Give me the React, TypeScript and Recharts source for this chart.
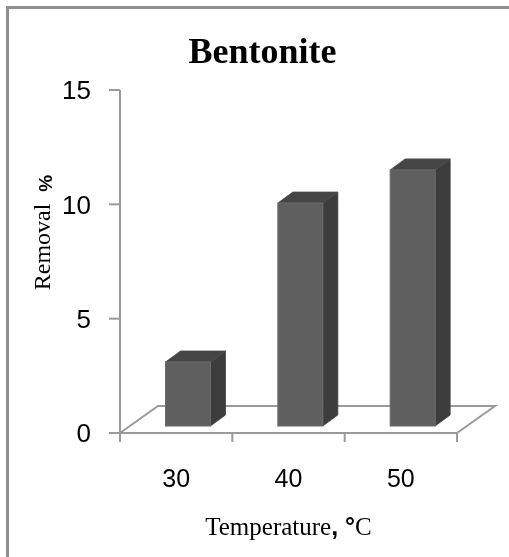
import React from 'react';
import { BarChart, Bar, XAxis, YAxis, ReferenceArea } from 'recharts';

// Removal (%) of the dye on bentonite at each temperature
const temperatures = ['30', '40', '50'];
const removal = [2.8, 9.75, 11.2];
const removalTicks = [0, 5, 10, 15];

const data = temperatures.map((t, i) => ({ temperature: t, removal: removal[i] }));

const AXIS_COLOR = '#9a9a9a';
const SANS = '"Liberation Sans", Arial, sans-serif';
const SERIF = '"Liberation Serif", "Times New Roman", serif';

// oblique projection of the floor and of each column
const FLOOR_DX = 38;
const FLOOR_DY = 27;
const SET_BACK_X = 11.5;
const SET_BACK_Y = 7;
const COL_DX = 15;
const COL_DY = 11;

function Column3D(props: any) {
  const { x, y, width, height } = props;
  if (x == null || y == null || !width || !height) return null;
  const fx = x + SET_BACK_X;
  const fy = y - SET_BACK_Y;
  const right = fx + width;
  const bottom = fy + height;
  return (
    <g>
      <polygon
        points={`${right},${fy} ${right + COL_DX},${fy - COL_DY} ${right + COL_DX},${bottom - COL_DY} ${right},${bottom}`}
        fill="#3c3c3c"
        stroke="#444"
        strokeWidth={0.8}
      />
      <polygon
        points={`${fx},${fy} ${fx + COL_DX},${fy - COL_DY} ${right + COL_DX},${fy - COL_DY} ${right},${fy}`}
        fill="#454545"
        stroke="#4a4a4a"
        strokeWidth={0.8}
      />
      <rect x={fx} y={fy} width={width} height={height} fill="#5f5f5f" stroke="#6c6c6c" strokeWidth={1} />
    </g>
  );
}

function Floor(props: any) {
  const { x, y, width } = props;
  if (x == null || y == null || width == null) return null;
  const pts = `${x},${y} ${x + FLOOR_DX},${y - FLOOR_DY} ${x + width + FLOOR_DX},${y - FLOOR_DY} ${x + width},${y}`;
  return <polyline points={pts} fill="#fff" stroke={AXIS_COLOR} strokeWidth={2} />;
}

// category label with tick marks on the band boundaries
function TemperatureTick(props: any) {
  const { x, y, payload, index, visibleTicksCount } = props;
  const half = payload && payload.offset ? payload.offset : 0;
  const top = y - 30;
  const marks = [x - half];
  if (index === (visibleTicksCount ?? 3) - 1) marks.push(x + half);
  return (
    <g>
      {marks.map((mx, i) => (
        <line key={i} x1={mx} x2={mx} y1={top} y2={top + 9} stroke={AXIS_COLOR} strokeWidth={2} />
      ))}
      <text x={x} y={top + 54} textAnchor="middle" fill="#000" fontSize={25} fontFamily={SANS}>
        {payload.value}
      </text>
    </g>
  );
}

function XTitle(props: any) {
  const vb = props.viewBox || {};
  const cx = vb.x + vb.width / 2;
  return (
    <text x={cx} y={vb.y + 102} textAnchor="middle" fill="#000" fontSize={25} fontFamily={SERIF}>
      <tspan>Temperature</tspan>
      <tspan fontFamily={SANS} fontWeight="bold">, °</tspan>
      <tspan>C</tspan>
    </text>
  );
}

function YTitle() {
  const x = 50;
  const y = 232.5;
  return (
    <text x={x} y={y} transform={`rotate(-90, ${x}, ${y})`} textAnchor="middle" fill="#000" fontSize={24} fontFamily={SERIF}>
      <tspan>Removal</tspan>
      <tspan dx={12} dy={2} fontFamily={SANS} fontWeight="bold" fontSize={19}>%</tspan>
    </text>
  );
}

export default function App() {
  return (
    <div>
      <div
        style={{
          position: 'fixed',
          left: 6,
          top: 6,
          width: 503,
          height: 551,
          borderLeft: '3px solid #8f8f8f',
          borderTop: '3px solid #8f8f8f',
          boxSizing: 'border-box',
        }}
      />
      <div
        style={{
          position: 'fixed',
          left: 0,
          top: 32.85,
          width: 525,
          textAlign: 'center',
          fontFamily: SERIF,
          fontWeight: 'bold',
          fontSize: 36,
          lineHeight: '36px',
          color: '#000',
        }}
      >
        Bentonite
      </div>
      <div style={{ position: 'fixed', left: 0, top: 0 }}>
        <BarChart width={509} height={557} data={data} margin={{ top: 90, right: 52, left: 60, bottom: 94 }}>
          <XAxis
            dataKey="temperature"
            height={30}
            axisLine={{ stroke: AXIS_COLOR, strokeWidth: 2 }}
            tickLine={false}
            tickSize={30}
            tickMargin={0}
            interval={0}
            tick={TemperatureTick}
            label={{ content: XTitle }}
          />
          <YAxis
            domain={[0, 15]}
            ticks={removalTicks}
            width={60}
            tickSize={11}
            tickMargin={18}
            axisLine={{ stroke: AXIS_COLOR, strokeWidth: 2 }}
            tickLine={{ stroke: AXIS_COLOR, strokeWidth: 2 }}
            tick={{ fontSize: 26, fill: '#000', fontFamily: SANS }}
            label={{ content: YTitle }}
          />
          <ReferenceArea y1={0} y2={0} ifOverflow="visible" shape={Floor} />
          <Bar dataKey="removal" barSize={45} isAnimationActive={false} shape={Column3D} />
        </BarChart>
      </div>
    </div>
  );
}
